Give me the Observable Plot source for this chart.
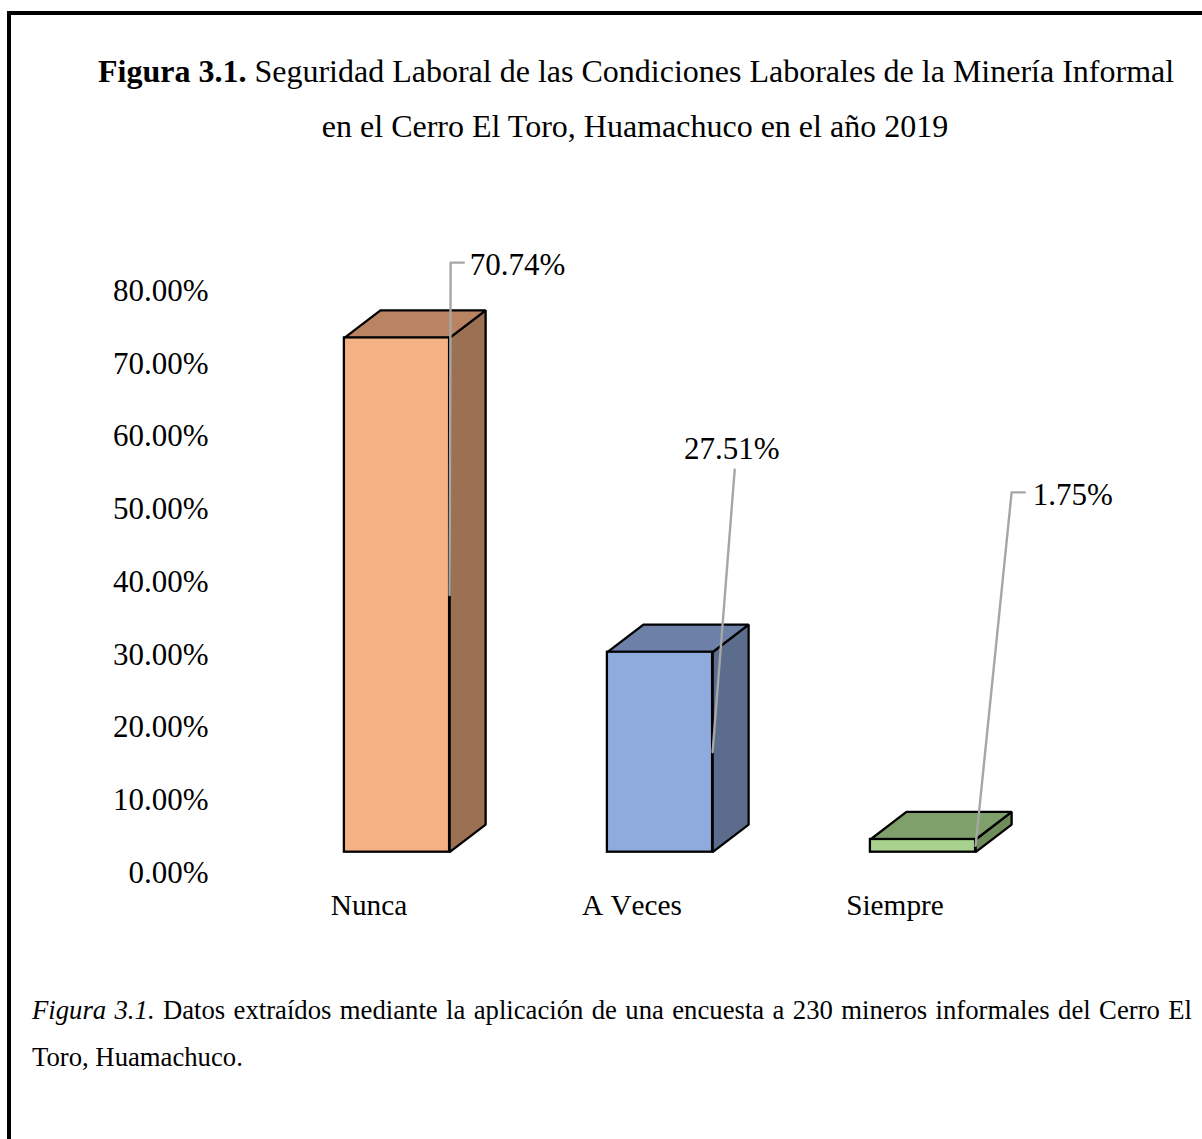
<!DOCTYPE html>
<html lang="es">
<head>
<meta charset="utf-8">
<script src="https://cdn.jsdelivr.net/npm/d3@7"></script>
<script src="https://cdn.jsdelivr.net/npm/@observablehq/plot@0.6"></script>
<style>
  html, body { margin: 0; padding: 0; background: #fff; }
  body { width: 1202px; height: 1139px; overflow: hidden; position: relative; font-family: "Liberation Serif", serif; color: #000; }
  #frame { position: absolute; left: 7px; top: 11px; right: -10px; bottom: -10px; border-left: 4px solid #000; border-top: 4px solid #000; }
  #head { position: relative; height: 200px; box-sizing: border-box; padding-top: 44px; padding-left: 98px; width: 1172px; text-align: center; font-size: 32px; line-height: 55px; white-space: nowrap; }
  #chart { position: relative; height: 740px; }
  #chart svg { display: block; font-kerning: none; }
  #note { position: relative; box-sizing: border-box; padding-top: 47px; margin-left: 32px; width: 1160px; font-size: 26.7px; line-height: 47px; }
  #note .first { text-align: justify; text-align-last: justify; }
</style>
</head>
<body>
<div id="frame"></div>
<div id="head"><b>Figura 3.1.</b> Seguridad Laboral de las Condiciones Laborales de la Minería Informal<br>en el Cerro El Toro, Huamachuco en el año 2019</div>
<div id="chart"></div>
<div id="note"><div class="first"><i>Figura 3.1.</i> Datos extraídos mediante la aplicación de una encuesta a 230 mineros informales del Cerro El</div><div>Toro, Huamachuco.</div></div>
<script>
const categories = ["Nunca", "A Veces", "Siempre"];
const values = [70.74, 27.51, 1.75];
const frontColors = ["#F4B183", "#8FAADC", "#A9D18E"];
const topColors = ["#BA8462", "#6C80A8", "#80A06B"];
const sideColors = ["#9C7052", "#5C6C8D", "#6F8C5B"];
const yTicks = [0, 10, 20, 30, 40, 50, 60, 70, 80];
const labelHeights = [81.1, 52.6, 49.5];
const leaderReach = [0.004, 0.084, 0.137];
const leaderArm = [0.05, 0, 0.05];
const labelShift = [[6, 2], [-3, -21], [8, 3]];

const halfWidth = 0.2, depthX = 0.137, depthY = 3.8;

const bars = categories.map((name, i) => ({
  id: name, i, v: values[i],
  left: i - halfWidth, right: i + halfWidth,
  front: frontColors[i], top: topColors[i], side: sideColors[i]
}));
const topFace = bars.flatMap(b => [
  {id: b.id, fill: b.top, x: b.left, y: b.v},
  {id: b.id, fill: b.top, x: b.left + depthX, y: b.v + depthY},
  {id: b.id, fill: b.top, x: b.right + depthX, y: b.v + depthY},
  {id: b.id, fill: b.top, x: b.right, y: b.v}
]);
const sideFace = bars.flatMap(b => [
  {id: b.id, fill: b.side, x: b.right, y: 0},
  {id: b.id, fill: b.side, x: b.right + depthX, y: depthY},
  {id: b.id, fill: b.side, x: b.right + depthX, y: b.v + depthY},
  {id: b.id, fill: b.side, x: b.right, y: b.v}
]);
const leaders = bars.flatMap(b => {
  const ex = b.right + leaderReach[b.i], ey = labelHeights[b.i];
  return [
    {id: b.id, x: b.right, y: b.v / 2},
    {id: b.id, x: ex, y: ey},
    {id: b.id, x: ex + leaderArm[b.i], y: ey}
  ];
});
const labels = bars.map(b => ({
  x: b.right + leaderReach[b.i] + leaderArm[b.i],
  y: labelHeights[b.i],
  dx: labelShift[b.i][0],
  dy: labelShift[b.i][1],
  text: b.v.toFixed(2) + "%",
  i: b.i
}));

const outlined = {stroke: "#000", strokeWidth: 2.3, strokeLinejoin: "miter"};

const plot = Plot.plot({
  width: 1202,
  height: 740,
  marginTop: 70.1,
  marginBottom: 88.3,
  marginLeft: 396.5,
  marginRight: 279.5,
  x: {domain: [0, 2]},
  y: {domain: [0, 80]},
  color: {type: "identity"},
  style: {fontFamily: "Liberation Serif", background: "transparent", color: "#000", overflow: "visible"},
  marks: [
    Plot.axisY({ticks: yTicks, tickSize: 0, tickPadding: 188.5, dy: 20.5, fontSize: 31, label: null, tickFormat: d => d.toFixed(2) + "%"}),
    Plot.axisX({ticks: [0, 1, 2], tickSize: 0, tickPadding: 42, dx: -28, fontSize: 29.3, label: null, tickFormat: i => categories[i]}),
    Plot.line(sideFace, {x: "x", y: "y", z: "id", fill: "fill", curve: "linear-closed", ...outlined}),
    Plot.line(topFace, {x: "x", y: "y", z: "id", fill: "fill", curve: "linear-closed", ...outlined}),
    Plot.rect(bars, {x1: "left", x2: "right", y1: 0, y2: "v", fill: "front", ...outlined}),
    Plot.line(leaders, {x: "x", y: "y", z: "id", stroke: "#a6a6a6", strokeWidth: 2.4, curve: "linear"}),
    ...labels.map(l => Plot.text([l], {x: "x", y: "y", text: "text", dx: l.dx, dy: l.dy, fontSize: 31, textAnchor: l.i === 1 ? "middle" : "start", fill: "#000"}))
  ]
});
document.getElementById("chart").appendChild(plot);
</script>
</body>
</html>
